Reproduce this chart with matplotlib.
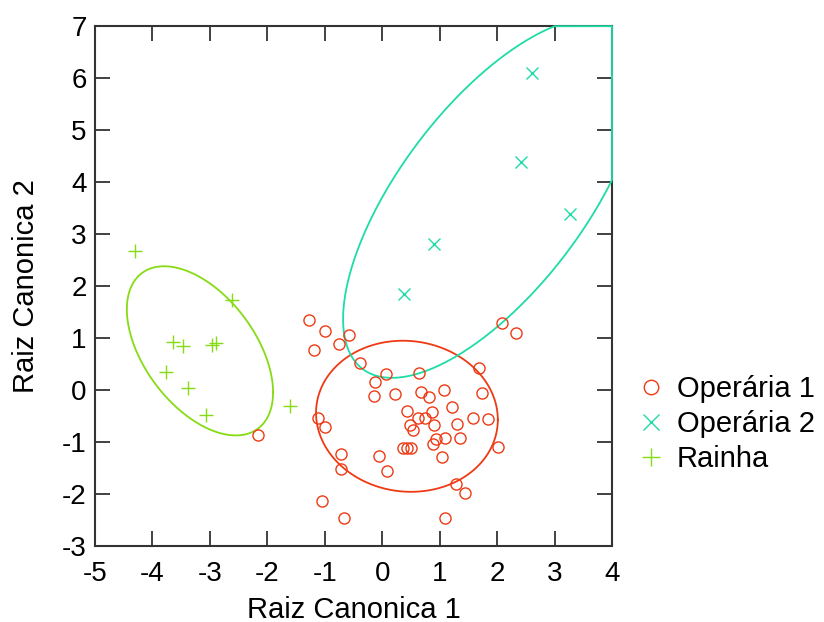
import numpy as np
import matplotlib
matplotlib.use('Agg')
import matplotlib.pyplot as plt

plt.rcParams['font.family'] = ['Liberation Sans', 'DejaVu Sans']
plt.rcParams['axes.unicode_minus'] = False

# Operária 1 (circles)
op1_x = [-1.27, -1.00, -0.57, -0.76, -1.19, -0.38, 0.06, 0.64, -0.12, -0.15,
         0.23, 0.67, 0.81, 1.08, 1.69, 2.09, 2.33, 1.74, 1.22, 0.43,
         0.87, 0.62, 0.75, 1.58, 1.84, -1.12, -1.00, 0.49, 0.54, 0.91,
         1.31, 0.94, 1.10, 1.36, 0.88, 0.36, 0.44, 0.50, 2.01, 1.04,
         -0.72, -0.05, -0.71, 0.08, 1.29, 1.44, -1.05, -0.66, 1.10, -2.17]
op1_y = [1.34, 1.13, 1.06, 0.89, 0.77, 0.52, 0.30, 0.33, 0.16, -0.11,
         -0.08, -0.03, -0.13, 0.01, 0.43, 1.29, 1.10, -0.06, -0.33, -0.41,
         -0.43, -0.53, -0.53, -0.53, -0.56, -0.54, -0.71, -0.67, -0.76, -0.67,
         -0.65, -0.95, -0.92, -0.92, -1.04, -1.12, -1.12, -1.12, -1.10, -1.28,
         -1.24, -1.26, -1.52, -1.56, -1.80, -1.98, -2.13, -2.46, -2.46, -0.86]

# Operária 2 (x)
op2_x = [2.61, 2.41, 3.27, 0.91, 0.38]
op2_y = [6.09, 4.38, 3.38, 2.80, 1.84]

# Rainha (+)
rainha_x = [-4.31, -2.62, -3.65, -3.47, -2.97, -2.90, -3.77, -3.38, -3.06, -1.60]
rainha_y = [2.67, 1.74, 0.92, 0.84, 0.87, 0.90, 0.35, 0.03, -0.48, -0.30]

xlim = (-5, 4)
ylim = (-3, 7)

red = '#EE3A14'
cyan = '#1EDCA6'
green = '#86DC14'


def conf_ellipse(x, y, p=0.68, npts=800):
    # confidence ellipse around group mean, clipped onto the axes frame
    x = np.asarray(x)
    y = np.asarray(y)
    n = len(x)
    cov = np.cov(x, y)
    k2 = (n - 1) * ((1 - p) ** (-2.0 / (n - 2)) - 1)
    L = np.linalg.cholesky(cov)
    t = np.linspace(0, 2 * np.pi, npts)
    pts = np.sqrt(k2) * L @ np.vstack([np.cos(t), np.sin(t)])
    ex = x.mean() + pts[0]
    ey = y.mean() + pts[1]
    return np.clip(ex, *xlim), np.clip(ey, *ylim)


fig = plt.figure(figsize=(8.24, 6.22), dpi=100)
ax = fig.add_axes([0.1153, 0.1222, 0.6274, 0.8358])

groups = [
    (op1_x, op1_y, red, 'o', 'Operária 1', 8),
    (op2_x, op2_y, cyan, 'x', 'Operária 2', 9),
    (rainha_x, rainha_y, green, '+', 'Rainha', 10),
]

handles = []
for gx, gy, col, mk, lab, ms in groups:
    ex, ey = conf_ellipse(gx, gy)
    ax.plot(ex, ey, color=col, lw=1.3, clip_on=False, zorder=3)
    h, = ax.plot(gx, gy, linestyle='none', marker=mk, markersize=ms,
                 markerfacecolor='none', markeredgecolor=col,
                 markeredgewidth=1.0, label=lab, zorder=4)
    handles.append(h)

ax.set_xlim(*xlim)
ax.set_ylim(*ylim)
ax.set_xticks(np.arange(-5, 5, 1))
ax.set_yticks(np.arange(-3, 8, 1))
ax.tick_params(direction='in', length=11, width=1.3, top=True, right=True,
               labelsize=20, color='#333333')
ax.tick_params(axis='x', pad=11)
ax.tick_params(axis='y', pad=6)
for s in ax.spines.values():
    s.set_linewidth(1.5)
    s.set_color('#333333')

ax.set_xlabel('Raiz Canonica 1', fontsize=21, labelpad=6)
ax.set_ylabel('Raiz Canonica 2', fontsize=21, labelpad=16)

fig.legend(handles=handles, loc='center left', bbox_to_anchor=(0.756, 0.318),
           frameon=False, fontsize=21, handlelength=0.9, handletextpad=0.45,
           labelspacing=0.23, borderpad=0, markerscale=1.3)

fig.savefig('out.png', dpi=100)
